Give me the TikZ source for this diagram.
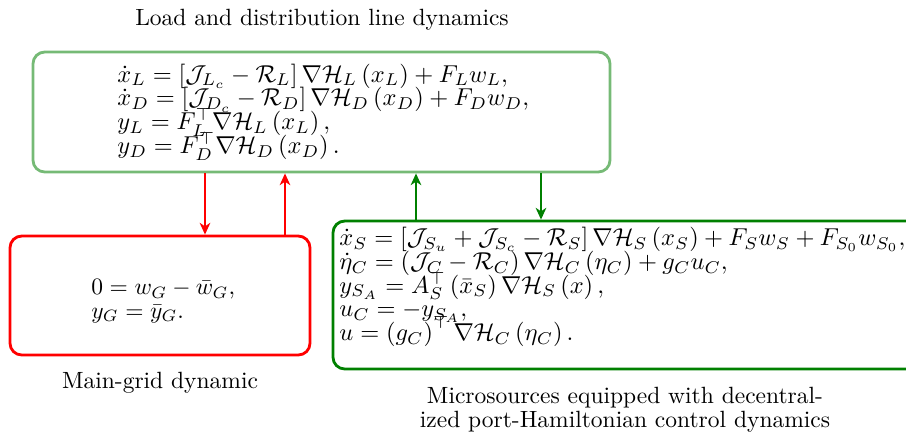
\RequirePackage{fix-cm}
\documentclass[tikz,border=0pt]{standalone}
\usepackage{amsmath,amssymb}
\usetikzlibrary{fit,arrows.meta}
\definecolor{lgreen}{RGB}{118,186,118}
\definecolor{dgreen}{RGB}{0,128,0}
\definecolor{rred}{RGB}{255,0,0}
\newcommand\mytightlines{\lineskiplimit=-20pt\relax}
\tikzset{
  box/.style={draw, line width=1.2pt, rounded corners=5pt, inner sep=0pt},
  eqs/.style={align=left, inner sep=0pt, anchor=west, font={\fontsize{10.4}{10.1}\selectfont\mytightlines}},
  smalleqs/.style={eqs, font={\fontsize{10}{10}\selectfont\mytightlines}},
  captext/.style={align=center, inner sep=0pt, font={\fontsize{10}{10.2}\selectfont}},
  conn/.style={line width=1.2pt, -{Stealth[length=5pt,width=4.5pt,inset=1.5pt]}},
}
\begin{document}
\begin{tikzpicture}[x=0.4255pt,y=-0.4255pt]
\useasboundingbox (0,0) rectangle (906,433);
% boxes
\node[box, lgreen, fit={(33,52) (610,172)}] (top) {};
\node[box, rred, fit={(10,236) (310,355)}] (grid) {};
\node[box, dgreen, fit={(333,221) (935,369)}] (micro) {};
% texts
\node[captext] (ttop) at (322,20) {Load and distribution line dynamics};
\node[captext] (tgrid) at (160,383) {Main-grid dynamic};
\node[captext] (tmicro) at (625,410) {Microsources equipped with decentral-\\ized port-Hamiltonian control dynamics};
\node[eqs] (etop) at (117,112) {%
$\dot{x}_L=\left[\mathcal{J}_{L_c}-\mathcal{R}_L\right]\nabla\mathcal{H}_L\left(x_L\right)+F_Lw_L,$\\
$\dot{x}_D=\left[\mathcal{J}_{D_c}-\mathcal{R}_D\right]\nabla\mathcal{H}_D\left(x_D\right)+F_Dw_D,$\\
$y_L=F_L^\top\nabla\mathcal{H}_L\left(x_L\right),$\\
$y_D=F_D^\top\nabla\mathcal{H}_D\left(x_D\right).$};
\node[smalleqs] (egrid) at (91,301) {%
$0=w_G-\bar{w}_G,$\\
$y_G=\bar{y}_G.$};
\node[eqs] (emicro) at (339,287) {%
$\dot{x}_S=\left[\mathcal{J}_{S_u}+\mathcal{J}_{S_c}-\mathcal{R}_S\right]\nabla\mathcal{H}_S\left(x_S\right)+F_Sw_S+F_{S_0}w_{S_0},$\\
$\dot{\eta}_C=\left(\mathcal{J}_C-\mathcal{R}_C\right)\nabla\mathcal{H}_C\left(\eta_C\right)+g_Cu_C,$\\
$y_{S_A}=A_S^\top\left(\bar{x}_S\right)\nabla\mathcal{H}_S\left(x\right),$\\
$u_C=-y_{S_A},$\\
$u=\left(g_C\right)^\top\nabla\mathcal{H}_C\left(\eta_C\right).$};
% connectors
\coordinate (c1) at (205,0);
\coordinate (c2) at (285,0);
\coordinate (c3) at (416,0);
\coordinate (c4) at (541,0);
\draw[conn, rred] (c1 |- top.south) -- (c1 |- grid.north);
\draw[conn, rred] (c2 |- grid.north) -- (c2 |- top.south);
\draw[conn, dgreen] (c3 |- micro.north) -- (c3 |- top.south);
\draw[conn, dgreen] (c4 |- top.south) -- (c4 |- micro.north);
\end{tikzpicture}
\end{document}
